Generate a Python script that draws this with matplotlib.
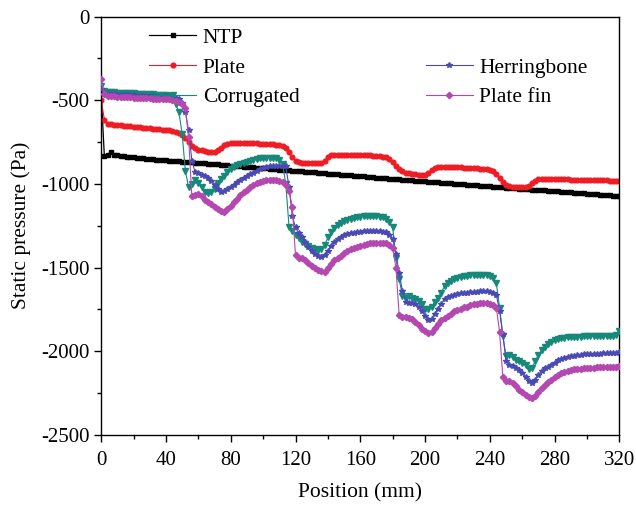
import matplotlib
matplotlib.use('Agg')
import matplotlib.pyplot as plt
from matplotlib.lines import Line2D
from matplotlib.ticker import MultipleLocator

plt.rcParams['font.family'] = ['Liberation Serif', 'DejaVu Serif']
plt.rcParams['axes.unicode_minus'] = False

# position along the channel (mm)
position = list(range(0, 321, 2))

ntp = [-450, -835, -825, -812, -825, -830, -833, -835, -837, -839,
       -841, -843, -845, -847, -849, -851, -852, -854, -856, -857,
       -859, -860, -862, -863, -865, -866, -868, -869, -871, -872,
       -874, -875, -877, -879, -880, -882, -883, -885, -886, -888,
       -890, -891, -893, -894, -896, -898, -899, -901, -902, -904,
       -906, -907, -909, -910, -912, -914, -915, -917, -918, -920,
       -922, -923, -925, -926, -928, -930, -931, -933, -934, -936,
       -938, -939, -941, -942, -944, -946, -947, -949, -950, -952,
       -954, -955, -957, -958, -960, -962, -963, -965, -966, -968,
       -970, -971, -973, -974, -976, -978, -979, -981, -982, -984,
       -985, -987, -988, -990, -991, -993, -994, -996, -997, -999,
       -1000, -1001, -1003, -1004, -1006, -1007, -1009, -1010, -1012, -1013,
       -1015, -1016, -1018, -1019, -1020, -1022, -1023, -1025, -1026, -1028,
       -1029, -1031, -1032, -1034, -1035, -1037, -1038, -1039, -1041, -1042,
       -1044, -1045, -1047, -1048, -1050, -1051, -1053, -1054, -1056, -1057,
       -1058, -1060, -1061, -1063, -1064, -1066, -1067, -1069, -1070, -1072,
       -1073]

plate = [-498, -615, -640, -643, -645, -647, -649, -651, -653, -655,
         -657, -659, -661, -663, -665, -667, -669, -671, -673, -675,
         -677, -680, -683, -688, -695, -705, -725, -750, -775, -788,
         -795, -800, -804, -807, -809, -808, -800, -785, -770, -762,
         -758, -756, -755, -755, -755, -756, -756, -757, -758, -759,
         -760, -761, -762, -764, -766, -768, -772, -785, -808, -840,
         -862, -870, -873, -875, -876, -876, -876, -875, -872, -860,
         -840, -830, -826, -825, -825, -825, -825, -826, -826, -827,
         -827, -828, -829, -830, -831, -832, -834, -837, -842, -852,
         -868, -890, -910, -925, -933, -937, -940, -942, -944, -945,
         -944, -935, -915, -903, -898, -897, -897, -897, -898, -899,
         -900, -901, -902, -903, -904, -905, -906, -908, -910, -913,
         -917, -925, -940, -965, -990, -1005, -1012, -1016, -1018, -1019,
         -1019, -1018, -1010, -995, -980, -972, -970, -970, -970, -971,
         -971, -972, -972, -973, -973, -974, -974, -975, -975, -976,
         -976, -977, -977, -978, -978, -979, -979, -980, -980, -981,
         -981]

corrugated = [-415, -445, -450, -452, -453, -454, -455, -456, -457, -458,
              -459, -460, -461, -462, -463, -464, -465, -466, -467, -468,
              -470, -472, -476, -520, -570, -700, -920, -1020, -1000, -976,
              -995, -1020, -1050, -1055, -1050, -1030, -995, -970, -950, -930,
              -910, -897, -886, -878, -872, -866, -860, -855, -850, -847,
              -845, -844, -843, -843, -845, -855, -880, -1000, -1255, -1280,
              -1305, -1325, -1345, -1360, -1372, -1382, -1390, -1394, -1390, -1365,
              -1320, -1290, -1265, -1245, -1232, -1222, -1214, -1207, -1202, -1198,
              -1195, -1193, -1192, -1192, -1193, -1194, -1196, -1200, -1210, -1225,
              -1260, -1440, -1570, -1670, -1680, -1670, -1680, -1690, -1700, -1720,
              -1745, -1750, -1735, -1705, -1680, -1650, -1610, -1590, -1578, -1570,
              -1562, -1556, -1552, -1549, -1547, -1545, -1544, -1544, -1545, -1547,
              -1552, -1565, -1595, -1740, -1910, -2030, -2025, -2035, -2050, -2060,
              -2070, -2085, -2105, -2100, -2060, -2020, -1995, -1975, -1958, -1945,
              -1935, -1928, -1923, -1920, -1918, -1916, -1915, -1914, -1913, -1912,
              -1912, -1911, -1911, -1910, -1910, -1910, -1909, -1909, -1908, -1906,
              -1880]

herringbone = [-430, -460, -462, -464, -465, -466, -467, -468, -469, -470,
               -471, -472, -473, -474, -475, -476, -477, -478, -479, -480,
               -481, -482, -484, -488, -495, -515, -570, -680, -860, -930,
               -935, -945, -955, -965, -985, -1005, -1030, -1050, -1045, -1032,
               -1020, -1005, -990, -976, -963, -951, -941, -933, -920, -910,
               -903, -898, -895, -893, -892, -892, -890, -895, -1020, -1190,
               -1260, -1295, -1320, -1345, -1375, -1400, -1420, -1432, -1438, -1425,
               -1400, -1370, -1345, -1328, -1318, -1308, -1300, -1296, -1292, -1289,
               -1286, -1284, -1283, -1282, -1282, -1283, -1284, -1286, -1290, -1305,
               -1330, -1420, -1530, -1640, -1705, -1712, -1710, -1720, -1735, -1760,
               -1790, -1815, -1805, -1775, -1745, -1715, -1690, -1678, -1670, -1664,
               -1659, -1655, -1652, -1650, -1648, -1646, -1644, -1642, -1641, -1641,
               -1645, -1652, -1665, -1760, -1900, -2060, -2080, -2090, -2098, -2110,
               -2130, -2155, -2178, -2190, -2170, -2140, -2118, -2103, -2093, -2082,
               -2068, -2055, -2045, -2038, -2033, -2029, -2026, -2023, -2021, -2019,
               -2018, -2017, -2016, -2015, -2014, -2013, -2012, -2012, -2011, -2010,
               -2005]

plate_fin = [-375, -465, -472, -475, -477, -479, -480, -481, -482, -483,
             -484, -485, -486, -487, -488, -489, -490, -491, -492, -493,
             -494, -495, -497, -502, -510, -525, -545, -720, -1075, -1068,
             -1062, -1075, -1095, -1108, -1120, -1135, -1150, -1162, -1165, -1150,
             -1130, -1110, -1088, -1065, -1048, -1035, -1020, -1007, -996, -988,
             -982, -978, -976, -976, -978, -982, -988, -1005, -1040, -1135,
             -1425, -1442, -1445, -1452, -1470, -1490, -1505, -1515, -1522, -1525,
             -1505, -1478, -1455, -1440, -1430, -1415, -1400, -1390, -1385, -1380,
             -1372, -1365, -1360, -1356, -1353, -1352, -1352, -1353, -1355, -1365,
             -1385, -1500, -1785, -1795, -1797, -1800, -1810, -1825, -1845, -1865,
             -1880, -1890, -1885, -1860, -1835, -1815, -1800, -1790, -1775, -1762,
             -1752, -1745, -1738, -1733, -1726, -1720, -1716, -1712, -1710, -1711,
             -1716, -1725, -1740, -1885, -2155, -2180, -2178, -2190, -2210, -2230,
             -2245, -2260, -2272, -2280, -2270, -2245, -2220, -2200, -2185, -2170,
             -2155, -2142, -2132, -2124, -2118, -2113, -2109, -2106, -2104, -2102,
             -2100, -2099, -2098, -2097, -2096, -2096, -2095, -2095, -2094, -2093,
             -2090]

fig = plt.figure(figsize=(6.36, 5.05), dpi=100)
ax = fig.add_axes([0.159, 0.139, 0.815, 0.828])

h_ntp, = ax.plot(position, ntp, color='black', marker='s', ms=3.2, lw=0.9, label='NTP')
h_plate, = ax.plot(position, plate, color='#ee1c24', marker='o', ms=3.4, lw=0.8, label='Plate')
h_corr, = ax.plot(position, corrugated, color='#16897a', marker='v', ms=4.2, lw=0.8,
                  label='Corrugated', zorder=3)
h_herr, = ax.plot(position, herringbone, color='#4a4ab5', marker='*', ms=4.2, lw=0.8,
                  label='Herringbone', zorder=3)
h_fin, = ax.plot(position, plate_fin, color='#b548b0', marker='D', ms=3.2, lw=0.8,
                 label='Plate fin', zorder=3)

ax.set_xlim(0, 320)
ax.set_ylim(-2500, 0)
ax.xaxis.set_major_locator(MultipleLocator(40))
ax.xaxis.set_minor_locator(MultipleLocator(20))
ax.yaxis.set_major_locator(MultipleLocator(500))
ax.yaxis.set_minor_locator(MultipleLocator(250))
ax.tick_params(which='both', direction='out', top=False, right=False, labelsize=15)
ax.tick_params(which='major', length=5, width=1)
ax.tick_params(which='minor', length=3, width=1)
ax.tick_params(axis='x', which='major', pad=7)
for s in ax.spines.values():
    s.set_linewidth(1.0)

ax.set_xlabel('Position (mm)', fontsize=15.5, labelpad=9)
ax.set_ylabel('Static pressure (Pa)', fontsize=15.5, labelpad=7)

blank = Line2D([], [], linestyle='none')
ax.legend([h_ntp, h_plate, h_corr, blank, h_herr, h_fin],
          ['NTP', 'Plate', 'Corrugated', '', 'Herringbone', 'Plate fin'],
          ncol=2, loc='upper left', bbox_to_anchor=(0.055, 1.02), frameon=False,
          fontsize=15.5, handlelength=2.2, handletextpad=0.3, columnspacing=5.85,
          labelspacing=0.45)

fig.savefig('out.png', dpi=100)
